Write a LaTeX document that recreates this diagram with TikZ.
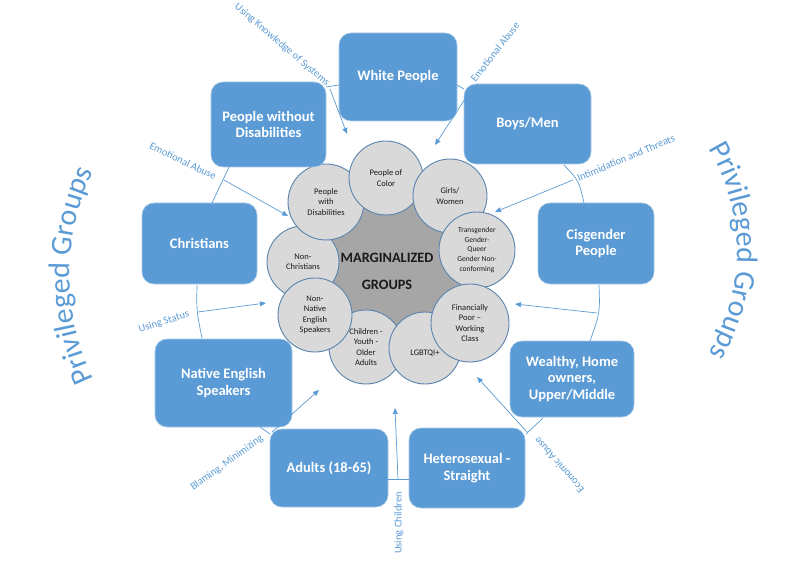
\documentclass[tikz,border=0pt]{standalone}
\usepackage{fontspec}
\setmainfont{Carlito}
\usetikzlibrary{arrows.meta,decorations.text,calc}
\definecolor{boxblue}{HTML}{5B9BD5}
\definecolor{lblue}{HTML}{5B9BD5}
\definecolor{cfill}{HTML}{D9D9D9}
\definecolor{cedge}{HTML}{5A83AD}
\definecolor{mgray}{HTML}{A6A6A6}
\definecolor{dtext}{HTML}{1A1A1A}
\begin{document}
\begin{tikzpicture}[x=1pt,y=-1pt,
  pbox/.style={draw=white!45!boxblue, line width=0.6pt, fill=boxblue, rounded corners=12pt, text=white, font=\fontsize{14.5}{16.5}\selectfont\bfseries, align=center, inner sep=0pt},
  gcirc/.style={circle, draw=cedge, line width=0.9pt, fill=cfill, inner sep=0pt, align=center, font=\fontsize{8.5}{10.5}\selectfont, text=dtext},
  ctext/.style={inner sep=0pt, font=\fontsize{8.5}{10.5}\selectfont, text=dtext},
  ring/.style={draw=lblue, line width=0.7pt},
  arr/.style={draw=lblue, line width=0.7pt, -{Triangle[length=6pt,width=5pt]}},
  lab/.style={text=lblue, font=\fontsize{10.5}{12}\selectfont, inner sep=0pt},
]
\useasboundingbox (0,0) rectangle (800,569);

% circle centres
\coordinate (cpoc) at (386,178);
\coordinate (cgw) at (450,196);
\coordinate (ctg) at (477,250);
\coordinate (cfp) at (470,323);
\coordinate (clg) at (425,348);
\coordinate (cch) at (366,347);
\coordinate (cnn) at (315,315);
\coordinate (cnc) at (303,262);
\coordinate (cpd) at (326,202);

\fill[mgray] (cpoc) -- (cgw) -- (ctg) -- (cfp) -- (clg) -- (cch) -- (cnn) -- (cnc) -- (cpd) -- cycle;

\node[gcirc, minimum size=74pt] (ch) at (cch) {Children -\\Youth -\\Older\\Adults};
\node[gcirc, minimum size=72pt] (lg) at (clg) {};
\node[ctext] (lgt) at (425,353) {LGBTQI+};
\node[gcirc, minimum size=72pt] (nc) at (cnc) {Non-\\Christians};
\node[gcirc, minimum size=76pt] (pd) at (cpd) {People\\with\\Disabilities};
\node[gcirc, minimum size=74pt] (poc) at (cpoc) {People of\\Color};
\node[gcirc, minimum size=74pt] (gw) at (cgw) {Girls/\\Women};
\node[gcirc, minimum size=76pt, font=\fontsize{7.5}{9.6}\selectfont] (tg) at (ctg) {Transgender\\Gender-\\Queer\\Gender Non-\\conforming};
\node[gcirc, minimum size=78pt] (fp) at (cfp) {Financially\\Poor --\\Working\\Class};
\node[gcirc, minimum size=74pt] (nn) at (cnn) {Non-\\Native\\English\\Speakers};

\node[text=dtext, font=\fontsize{14.3}{27}\selectfont\bfseries, align=center] (mg) at (387,271.5) {MARGINALIZED\\GROUPS};

% privileged boxes
\node[pbox, minimum width=118pt, minimum height=88pt] (white) at (398,77) {White People};
\node[pbox, minimum width=115pt, minimum height=85pt] (pwd) at (268.5,124.5) {People without\\Disabilities};
\node[pbox, minimum width=127pt, minimum height=80pt] (boys) at (527.5,124) {Boys/Men};
\node[pbox, minimum width=116pt, minimum height=81pt] (cis) at (596,243.5) {Cisgender\\People};
\node[pbox, minimum width=124pt, minimum height=76pt] (wealthy) at (572,379) {Wealthy, Home\\owners,\\Upper/Middle};
\node[pbox, minimum width=116pt, minimum height=80pt] (hetero) at (467,468) {Heterosexual -\\Straight};
\node[pbox, minimum width=118pt, minimum height=78pt] (adults) at (329,468) {Adults (18-65)};
\node[pbox, minimum width=137pt, minimum height=88pt] (native) at (223.5,383) {Native English\\Speakers};
\node[pbox, minimum width=115pt, minimum height=81pt] (christ) at (199.5,243.5) {Christians};

% ring segments between boxes
\coordinate (r1a) at (326,87);   \coordinate (r1b) at (339,85);
\coordinate (r2a) at (457,85);   \coordinate (r2b) at (464,89);
\coordinate (r3a) at (564,165);  \coordinate (r3b) at (584,203);
\coordinate (r4a) at (599,285);  \coordinate (r4b) at (590,341);
\coordinate (r5a) at (543,418);  \coordinate (r5b) at (526,434);
\coordinate (r6a) at (409,479);  \coordinate (r6b) at (388,479);
\coordinate (r7a) at (260,427);  \coordinate (r7b) at (270,434);
\coordinate (r8a) at (197,285);  \coordinate (r8b) at (202,338);
\coordinate (r9a) at (212,203);  \coordinate (r9b) at (229,167);

\draw[ring] (r1a) -- (r1b);
\draw[ring] (r2a) -- (r2b);
\draw[ring] (r3a) .. controls (579,181) .. (r3b);
\draw[ring] (r4a) .. controls (600,313) .. (r4b);
\draw[ring] (r5a) -- (r5b);
\draw[ring] (r6a) -- (r6b);
\draw[ring] (r7a) -- (r7b);
\draw[ring] (r8a) .. controls (196.5,311) .. (r8b);
\draw[ring] (r9a) -- (r9b);

% arrows toward the centre
\coordinate (a1s) at (330,89);  \coordinate (a1e) at (347,134);
\coordinate (a2s) at (465,99);  \coordinate (a2e) at (435,145);
\coordinate (a3s) at (573,180); \coordinate (a3e) at (495,212);
\coordinate (a4s) at (597,313); \coordinate (a4e) at (515,304);
\coordinate (a5s) at (527,432); \coordinate (a5e) at (477,377);
\coordinate (a6s) at (398,479); \coordinate (a6e) at (395,408);
\coordinate (a7s) at (272,432); \coordinate (a7e) at (319,390);
\coordinate (a8s) at (198,312); \coordinate (a8e) at (266,303);
\coordinate (a9s) at (224,180); \coordinate (a9e) at (288,216);

\draw[arr] (a1s) -- (a1e);
\draw[arr] (a2s) -- (a2e);
\draw[arr] (a3s) -- (a3e);
\draw[arr] (a4s) -- (a4e);
\draw[arr] (a5s) -- (a5e);
\draw[arr] (a6s) -- (a6e);
\draw[arr] (a7s) -- (a7e);
\draw[arr] (a8s) -- (a8e);
\draw[arr] (a9s) -- (a9e);

% labels
\node[lab, rotate=-40.5] (l1) at (282,45) {Using Knowledge of Systems};
\node[lab, rotate=52] (l2) at (495,52) {Emotional Abuse};
\node[lab, rotate=22.7] (l3) at (626,158) {Intimidation and Threats};
\node[lab, rotate=131] (l4) at (559,465) {Economic Abuse};
\node[lab, rotate=90] (l5) at (399,523) {Using Children};
\node[lab, rotate=36] (l6) at (227,463) {Blaming, Minimizing};
\node[lab, rotate=18] (l7) at (164,322) {Using Status};
\node[lab, rotate=-25.5] (l8) at (183,161) {Emotional Abuse};

% curved titles
\path[decorate, decoration={text along path, text align=center, text color=lblue,
  text={|\fontsize{30}{30}\selectfont|Privileged Groups}}]
  (113.3,413.7) arc[start angle=145, end angle=215, radius=241];
\path[decorate, decoration={text along path, text align=center, text color=lblue,
  text={|\fontsize{30}{30}\selectfont|Privileged Groups}}]
  (690.2,122.4) arc[start angle=-40, end angle=40, radius=200];
\end{tikzpicture}
\end{document}
